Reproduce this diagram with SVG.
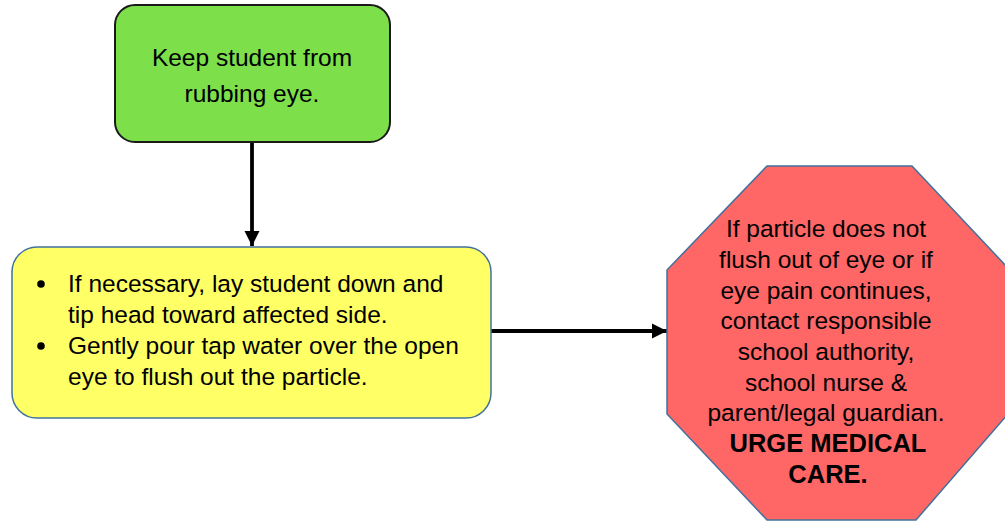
<svg xmlns="http://www.w3.org/2000/svg" width="1005" height="522" viewBox="0 0 1005 522">
  <defs>
    <marker id="arrow" viewBox="0 0 10 10" refX="10" refY="5" markerWidth="4" markerHeight="4" markerUnits="strokeWidth" orient="auto">
      <path d="M0,0 L10,5 L0,10 Z" fill="#000"/>
    </marker>
    <style>
      .txt { font-family: "Liberation Sans", Arial, sans-serif; font-size: 24.5px; fill: #000; }
      .mid { text-anchor: middle; }
      .bold { font-weight: bold; font-size: 25.5px; }
      .conn { stroke: #000; stroke-width: 3.8; fill: none; }
    </style>
  </defs>

  <rect width="1005" height="522" fill="#fff"/>

  <!-- connectors -->
  <g id="connectors">
    <line class="conn" x1="252" y1="142" x2="252" y2="246" marker-end="url(#arrow)"/>
    <line class="conn" x1="491" y1="331" x2="667" y2="331" marker-end="url(#arrow)"/>
  </g>

  <!-- step 1 -->
  <g id="node-keep">
    <rect x="115" y="5" width="275" height="137" rx="20" ry="20" fill="#7DDF4A" stroke="#1a1a1a" stroke-width="2"/>
    <text class="txt mid" x="252" y="66">Keep student from</text>
    <text class="txt mid" x="252" y="102">rubbing eye.</text>
  </g>

  <!-- step 2 -->
  <g id="node-flush">
    <rect x="12" y="247" width="479" height="171" rx="25" ry="25" fill="#FFFF66" stroke="#41719C" stroke-width="1.5"/>
    <circle cx="41" cy="284" r="3.8" fill="#000"/>
    <circle cx="41" cy="346" r="3.8" fill="#000"/>
    <text class="txt" x="68" y="291.5">If necessary, lay student down and</text>
    <text class="txt" x="68" y="322.5">tip head toward affected side.</text>
    <text class="txt" x="68" y="353.5">Gently pour tap water over the open</text>
    <text class="txt" x="68" y="384.5">eye to flush out the particle.</text>
  </g>

  <!-- step 3 -->
  <g id="node-medical">
    <polygon points="767,166 912,166 1008,268 1008,414 916,520 767,520 667,414 667,270" fill="#FF6666" stroke="#41719C" stroke-width="1.5"/>
    <text class="txt mid" x="826" y="237">If particle does not</text>
    <text class="txt mid" x="826" y="268">flush out of eye or if</text>
    <text class="txt mid" x="826" y="298.5">eye pain continues,</text>
    <text class="txt mid" x="826" y="329">contact responsible</text>
    <text class="txt mid" x="826" y="360">school authority,</text>
    <text class="txt mid" x="826" y="390.5">school nurse &amp;</text>
    <text class="txt mid" x="826" y="421">parent/legal guardian.</text>
    <text class="txt mid bold" x="828" y="452">URGE MEDICAL</text>
    <text class="txt mid bold" x="828" y="483">CARE.</text>
  </g>
</svg>
